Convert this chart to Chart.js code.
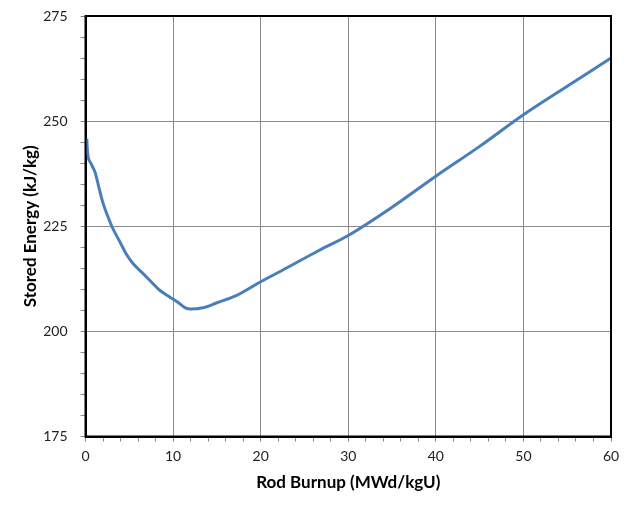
<!DOCTYPE html>
<html>
<head>
<meta charset="utf-8">
<script src="https://cdn.jsdelivr.net/npm/chart.js@4/dist/chart.umd.min.js"></script>
<style>
html,body{margin:0;padding:0;background:#fff;}
#wrap{width:636px;height:511px;position:relative;}
</style>
</head>
<body>
<div id="wrap"><canvas id="c" width="636" height="511"></canvas></div>
<script>
const burnup = [0.15, 0.2, 0.3, 0.6, 1.1, 1.5, 2.0, 2.5, 3.0, 4.0, 4.6, 5.4, 6.5, 7.5, 8.4, 9.6, 10.5, 11.4, 12.0, 13.4, 15, 17.2, 20, 22.9, 26.7, 30, 34.5, 40, 45, 50, 55, 60];
const storedEnergy = [245.8, 243.5, 241.5, 240, 237.8, 234.5, 230.5, 227.6, 225, 221, 218.6, 216.2, 213.9, 211.8, 209.9, 208.2, 207, 205.6, 205.3, 205.6, 206.8, 208.5, 211.8, 215, 219.3, 222.8, 228.8, 236.9, 244.0, 251.5, 258.3, 265];
const xTitle = 'Rod Burnup (MWd/kgU)';
const yTitle = 'Stored Energy (kJ/kg)';

const points = burnup.map((x, i) => ({x: x, y: storedEnergy[i]}));

const frame = {
  id: 'frame',
  afterDraw(chart) {
    const a = chart.chartArea, ctx = chart.ctx;
    ctx.save();
    ctx.strokeStyle = '#000';
    ctx.lineWidth = 2;
    ctx.strokeRect(a.left, a.top, a.right - a.left, a.bottom - a.top);
    ctx.restore();
  }
};

const fontFam = 'Lato, "Open Sans", sans-serif';

new Chart(document.getElementById('c'), {
  type: 'line',
  data: {
    datasets: [{
      data: points,
      borderColor: '#4a7ebb',
      borderWidth: 3,
      pointRadius: 0,
      fill: false,
      cubicInterpolationMode: 'monotone'
    }]
  },
  options: {
    responsive: false,
    animation: false,
    layout: {padding: {left: 0, right: 25, top: 16, bottom: 0}},
    plugins: {legend: {display: false}, tooltip: {enabled: false}},
    scales: {
      x: {
        type: 'linear', min: 0, max: 60,
        afterFit(s) { s.height = 74.5; s.paddingLeft = 0; s.paddingRight = 0; },
        ticks: {
          stepSize: 2, autoSkip: false, maxRotation: 0, padding: 7,
          color: '#222', font: {family: fontFam, size: 14},
          callback: v => (v % 10 === 0 ? String(v) : '')
        },
        grid: {
          color: ctx => (ctx.tick && ctx.tick.value % 10 === 0 ? '#8a8a8a' : 'rgba(0,0,0,0)'),
          tickColor: '#8a8a8a', tickLength: 5, lineWidth: 1
        },
        border: {color: '#000', width: 2},
        title: {display: true, text: xTitle, color: '#000', font: {family: fontFam, size: 17, weight: 'bold'}, padding: {top: 0, bottom: 18}}
      },
      y: {
        type: 'linear', min: 175, max: 275,
        afterFit(s) { s.width = 85.5; s.paddingTop = 0; s.paddingBottom = 0; },
        ticks: {
          stepSize: 5, autoSkip: false, padding: 13,
          color: '#222', font: {family: fontFam, size: 14},
          callback: v => (v % 25 === 0 ? String(v) : '')
        },
        grid: {
          color: ctx => (ctx.tick && ctx.tick.value % 25 === 0 ? '#8a8a8a' : 'rgba(0,0,0,0)'),
          tickColor: '#8a8a8a', tickLength: 5, lineWidth: 1
        },
        border: {color: '#000', width: 2},
        title: {display: true, text: yTitle, color: '#000', font: {family: fontFam, size: 17, weight: 'bold'}, padding: {top: 20, bottom: 0}}
      }
    }
  },
  plugins: [frame]
});
</script>
</body>
</html>
